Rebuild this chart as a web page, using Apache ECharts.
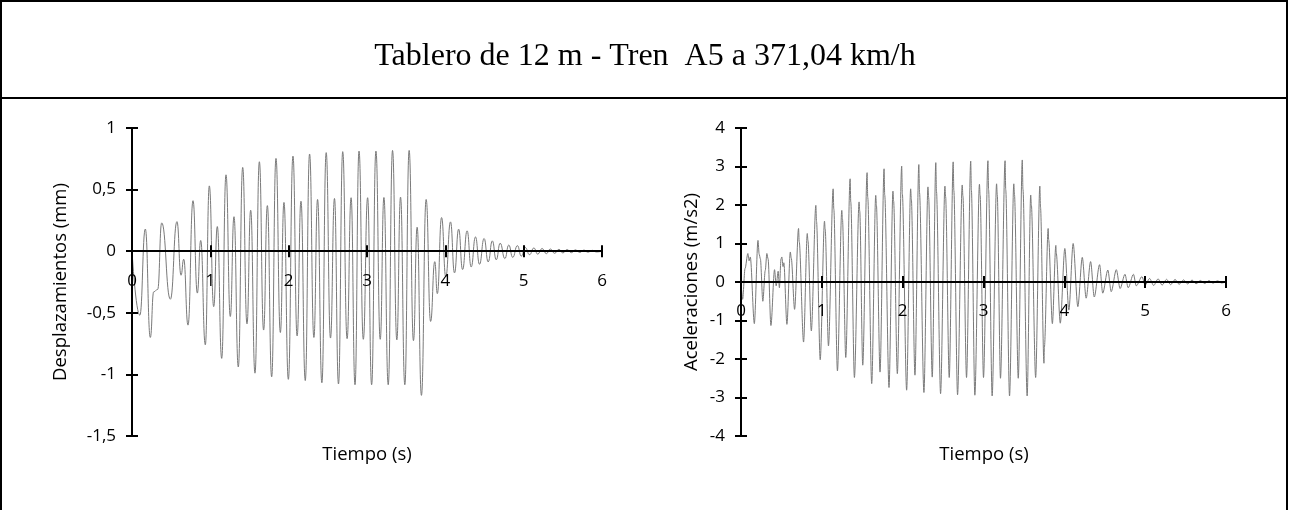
<!DOCTYPE html>
<html>
<head>
<meta charset="utf-8">
<script src="https://cdn.jsdelivr.net/npm/echarts@6/dist/echarts.min.js"></script>
<style>
  html, body { margin: 0; padding: 0; background: #fff; }
  #chart { width: 1289px; height: 510px; }
</style>
</head>
<body>
<div id="chart"></div>
<script>
// Tablero de 12 m, tren A5 a 371,04 km/h: desplazamientos y aceleraciones en el centro del vano.
// Series stored as the turning points (peaks / troughs) of each time history.

const chartTitle = 'Tablero de 12 m - Tren  A5 a 371,04 km/h';
const timeTicks = ['0', '1', '2', '3', '4', '5', '6'];
const dispTicks = ['-1,5', '-1', '-0,5', '0', '0,5', '1'];
const accTicks = ['-4', '-3', '-2', '-1', '0', '1', '2', '3', '4'];

// Desplazamientos (mm)
const dispTime = [
  0, 0.10, 0.17, 0.234, 0.277, 0.328, 0.379, 0.49, 0.574, 0.626, 0.66, 0.715,
  0.779, 0.834, 0.877, 0.936, 0.987, 1.043, 1.089, 1.145, 1.20, 1.255, 1.302, 1.357,
  1.413, 1.468, 1.515, 1.57, 1.626, 1.68, 1.728, 1.783, 1.838, 1.894, 1.94, 1.996,
  2.055, 2.108, 2.157, 2.212, 2.267, 2.322, 2.369, 2.424, 2.479, 2.534, 2.585, 2.636,
  2.69, 2.746, 2.797, 2.847, 2.898, 2.953, 3.008, 3.059, 3.114, 3.169, 3.216, 3.271,
  3.326, 3.381, 3.428, 3.483, 3.538, 3.593, 3.64, 3.695, 3.755, 3.812, 3.865, 3.898,
  3.952, 4.006, 4.066, 4.117, 4.17, 4.22, 4.278, 4.33, 4.385, 4.436, 4.495, 4.547,
  4.6, 4.65, 4.7, 4.76, 4.81, 4.86, 4.92, 4.97, 5.02, 5.075, 5.13, 5.18,
  5.235, 5.29, 5.34, 5.395, 5.45, 5.5, 5.555, 5.61, 5.66, 5.715, 5.77, 5.82,
  5.875, 5.93, 6.0
];
const dispValue = [
  0, -0.52, 0.18, -0.70, -0.33, -0.31, 0.23, -0.39, 0.24, -0.195, -0.065, -0.60,
  0.41, -0.34, 0.087, -0.76, 0.53, -0.45, 0.20, -0.87, 0.62, -0.53, 0.28, -0.94,
  0.68, -0.59, 0.333, -0.99, 0.726, -0.64, 0.37, -1.02, 0.753, -0.66, 0.396, -1.04,
  0.772, -0.688, 0.406, -1.05, 0.789, -0.70, 0.42, -1.068, 0.80, -0.705, 0.428, -1.078,
  0.808, -0.71, 0.434, -1.084, 0.813, -0.715, 0.434, -1.084, 0.813, -0.715, 0.436, -1.084,
  0.818, -0.72, 0.439, -1.084, 0.818, -0.726, 0.195, -1.17, 0.42, -0.57, -0.085, -0.344,
  0.273, -0.209, 0.238, -0.176, 0.179, -0.149, 0.165, -0.128, 0.116, -0.106, 0.103, -0.087,
  0.084, -0.07, 0.065, -0.06, 0.05, -0.05, 0.045, -0.04, 0.03, -0.028, 0.026, -0.024,
  0.022, -0.02, 0.018, -0.017, 0.015, -0.014, 0.013, -0.012, 0.011, -0.01, 0.009, -0.008,
  0.007, -0.006, 0
];

// Aceleraciones (m/s2)
const accTime = [
  0, 0.02, 0.05, 0.085, 0.10, 0.115, 0.165, 0.21, 0.225, 0.24, 0.27, 0.30,
  0.32, 0.335, 0.37, 0.415, 0.435, 0.46, 0.475, 0.495, 0.505, 0.52, 0.53, 0.568,
  0.61, 0.622, 0.663, 0.712, 0.72, 0.774, 0.82, 0.828, 0.87, 0.926, 0.934, 0.98,
  1.033, 1.041, 1.082, 1.14, 1.148, 1.193, 1.247, 1.255, 1.296, 1.35, 1.358, 1.403,
  1.461, 1.469, 1.506, 1.56, 1.568, 1.617, 1.667, 1.675, 1.72, 1.77, 1.778, 1.831,
  1.88, 1.888, 1.934, 1.988, 1.996, 2.049, 2.099, 2.107, 2.152, 2.2, 2.208, 2.263,
  2.313, 2.321, 2.366, 2.41, 2.418, 2.469, 2.523, 2.531, 2.576, 2.625, 2.633, 2.679,
  2.737, 2.745, 2.79, 2.842, 2.85, 2.893, 2.95, 2.958, 3.0, 3.055, 3.063, 3.107,
  3.162, 3.17, 3.21, 3.267, 3.275, 3.322, 3.375, 3.383, 3.43, 3.48, 3.488, 3.54,
  3.584, 3.592, 3.645, 3.697, 3.705, 3.748, 3.753, 3.8, 3.806, 3.852, 3.895, 3.9,
  3.95, 4.006, 4.056, 4.109, 4.167, 4.222, 4.27, 4.325, 4.37, 4.436, 4.475, 4.538,
  4.58, 4.643, 4.69, 4.75, 4.79, 4.855, 4.89, 4.96, 5.0, 5.055, 5.105, 5.16,
  5.21, 5.265, 5.315, 5.37, 5.42, 5.475, 5.525, 5.58, 5.63, 5.685, 5.735, 5.79,
  5.84, 5.895, 5.945, 6.0
];
const accValue = [
  0, -0.45, 0.35, 0.74, 0.55, 0.65, -1.08, 1.08, 0.72, 0.6, -0.5, 0.3,
  0.74, 0.6, -1.13, 0.32, -0.1, 0.28, -0.15, 0.6, 0.65, 0.4, 0.5, -1.10,
  0.78, 0.62, -0.71, 1.39, 1.05, -1.56, 1.26, 1.08, -1.27, 1.99, 1.58, -2.02,
  1.58, 1.38, -1.66, 2.42, 1.9, -2.31, 1.86, 1.64, -1.96, 2.68, 2.08, -2.48,
  2.08, 1.84, -2.16, 2.84, 2.2, -2.64, 2.25, 2.0, -2.34, 2.94, 2.26, -2.74,
  2.36, 2.1, -2.38, 3.01, 2.29, -2.81, 2.42, 2.16, -2.42, 3.05, 2.33, -2.87,
  2.47, 2.2, -2.47, 3.10, 2.36, -2.90, 2.49, 2.22, -2.48, 3.12, 2.38, -2.93,
  2.52, 2.24, -2.48, 3.14, 2.39, -2.94, 2.54, 2.26, -2.48, 3.15, 2.4, -2.96,
  2.55, 2.27, -2.5, 3.15, 2.4, -2.96, 2.55, 2.27, -2.5, 3.17, 2.41, -2.96,
  2.26, 2.0, -2.48, 2.49, 1.95, -2.11, -1.7, 1.39, 1.1, -1.08, 0.95, 0.75,
  -1.07, 0.87, -0.73, 1.0, -0.64, 0.64, -0.42, 0.53, -0.39, 0.45, -0.29, 0.31,
  -0.25, 0.32, -0.17, 0.2, -0.15, 0.2, -0.1, 0.14, -0.08, 0.09, -0.09, 0.08,
  -0.08, 0.07, -0.07, 0.065, -0.06, 0.055, -0.05, 0.05, -0.045, 0.04, -0.04, 0.035,
  -0.03, 0.03, -0.025, 0
];

const pairs = (xs, ys) => xs.map((x, i) => [x, ys[i]]);

const FONT = '"Open Sans", "Liberation Sans", sans-serif';
const tickFont = { fontFamily: FONT, fontSize: 17, color: '#000' };
const nameFont = { fontFamily: FONT, fontSize: 18.5, color: '#000' };
const axisBlack = { color: '#000', width: 2 };

function tickFormatter(labels, min, step) {
  return v => labels[Math.round((v - min) / step)];
}

// Plot areas
const grids = [
  { left: 132, top: 128, width: 470, height: 308, yMin: -1.5, yMax: 1 },
  { left: 741, top: 128, width: 485, height: 308, yMin: -4, yMax: 4 }
];

function valueAxes(gridIndex, step, labels, name, nameGap) {
  const { yMin: min, yMax: max } = grids[gridIndex];
  return [
    {
      type: 'value', gridIndex, position: 'left', min, max, interval: step,
      name, nameLocation: 'middle', nameGap, nameRotate: 90,
      nameTextStyle: { ...nameFont },
      axisLine: { show: true, lineStyle: axisBlack },
      axisTick: { show: true, length: 6, lineStyle: axisBlack },
      axisLabel: { ...tickFont, margin: 16, formatter: tickFormatter(labels, min, step) },
      splitLine: { show: false }, z: 5
    },
    {
      type: 'value', gridIndex, position: 'left', min, max, interval: step,
      axisLine: { show: false },
      axisTick: { show: true, inside: true, length: 6, lineStyle: axisBlack },
      axisLabel: { show: false },
      splitLine: { show: false }, z: 5
    }
  ];
}

// Time axis drawn across the zero line of the value axis, ticks crossing it.
function timeAxes(gridIndex) {
  const g = grids[gridIndex];
  const zeroFromTop = g.height * g.yMax / (g.yMax - g.yMin);
  const zeroFromBottom = g.height - zeroFromTop;
  return [
    {
      type: 'value', gridIndex, position: 'bottom', offset: -zeroFromBottom,
      min: 0, max: 6, interval: 1,
      axisLine: { show: true, onZero: false, lineStyle: axisBlack },
      axisTick: { show: true, length: 6, lineStyle: axisBlack },
      axisLabel: { ...tickFont, margin: 21, formatter: tickFormatter(timeTicks, 0, 1) },
      splitLine: { show: false }, z: 5
    },
    {
      type: 'value', gridIndex, position: 'top', offset: -zeroFromTop,
      min: 0, max: 6, interval: 1,
      axisLine: { show: false, onZero: false },
      axisTick: { show: true, length: 6, lineStyle: axisBlack },
      axisLabel: { show: false },
      splitLine: { show: false }, z: 5
    }
  ];
}

const chart = echarts.init(document.getElementById('chart'), null, { renderer: 'canvas' });

chart.setOption({
  backgroundColor: '#fff',
  animation: false,
  grid: grids.map(g => ({ left: g.left, top: g.top, width: g.width, height: g.height })),
  xAxis: [...timeAxes(0), ...timeAxes(1)],
  yAxis: [
    ...valueAxes(0, 0.5, dispTicks, 'Desplazamientos (mm)', 62),
    ...valueAxes(1, 1, accTicks, 'Aceleraciones (m/s2)', 40)
  ],
  series: [
    {
      type: 'line', xAxisIndex: 0, yAxisIndex: 0,
      data: pairs(dispTime, dispValue),
      showSymbol: false, smooth: 0.5, smoothMonotone: 'x',
      lineStyle: { color: '#7a7a7a', width: 1 }, z: 2
    },
    {
      type: 'line', xAxisIndex: 2, yAxisIndex: 2,
      data: pairs(accTime, accValue),
      showSymbol: false, smooth: 0.3, smoothMonotone: 'x',
      lineStyle: { color: '#7a7a7a', width: 1 }, z: 2
    }
  ],
  graphic: [
    { type: 'rect', shape: { x: 1, y: 1, width: 1286, height: 520 }, style: { fill: null, stroke: '#000', lineWidth: 2 }, silent: true },
    { type: 'line', shape: { x1: 1, y1: 98, x2: 1288, y2: 98 }, style: { stroke: '#000', lineWidth: 2 }, silent: true },
    { type: 'text', x: 645, y: 57, style: { text: chartTitle, font: '32px "Liberation Serif", serif', fill: '#000', align: 'center', verticalAlign: 'middle' } },
    { type: 'text', x: 367, y: 455, style: { text: 'Tiempo (s)', font: '18.5px ' + FONT, fill: '#000', align: 'center', verticalAlign: 'middle' } },
    { type: 'text', x: 984, y: 455, style: { text: 'Tiempo (s)', font: '18.5px ' + FONT, fill: '#000', align: 'center', verticalAlign: 'middle' } }
  ]
});
</script>
</body>
</html>
